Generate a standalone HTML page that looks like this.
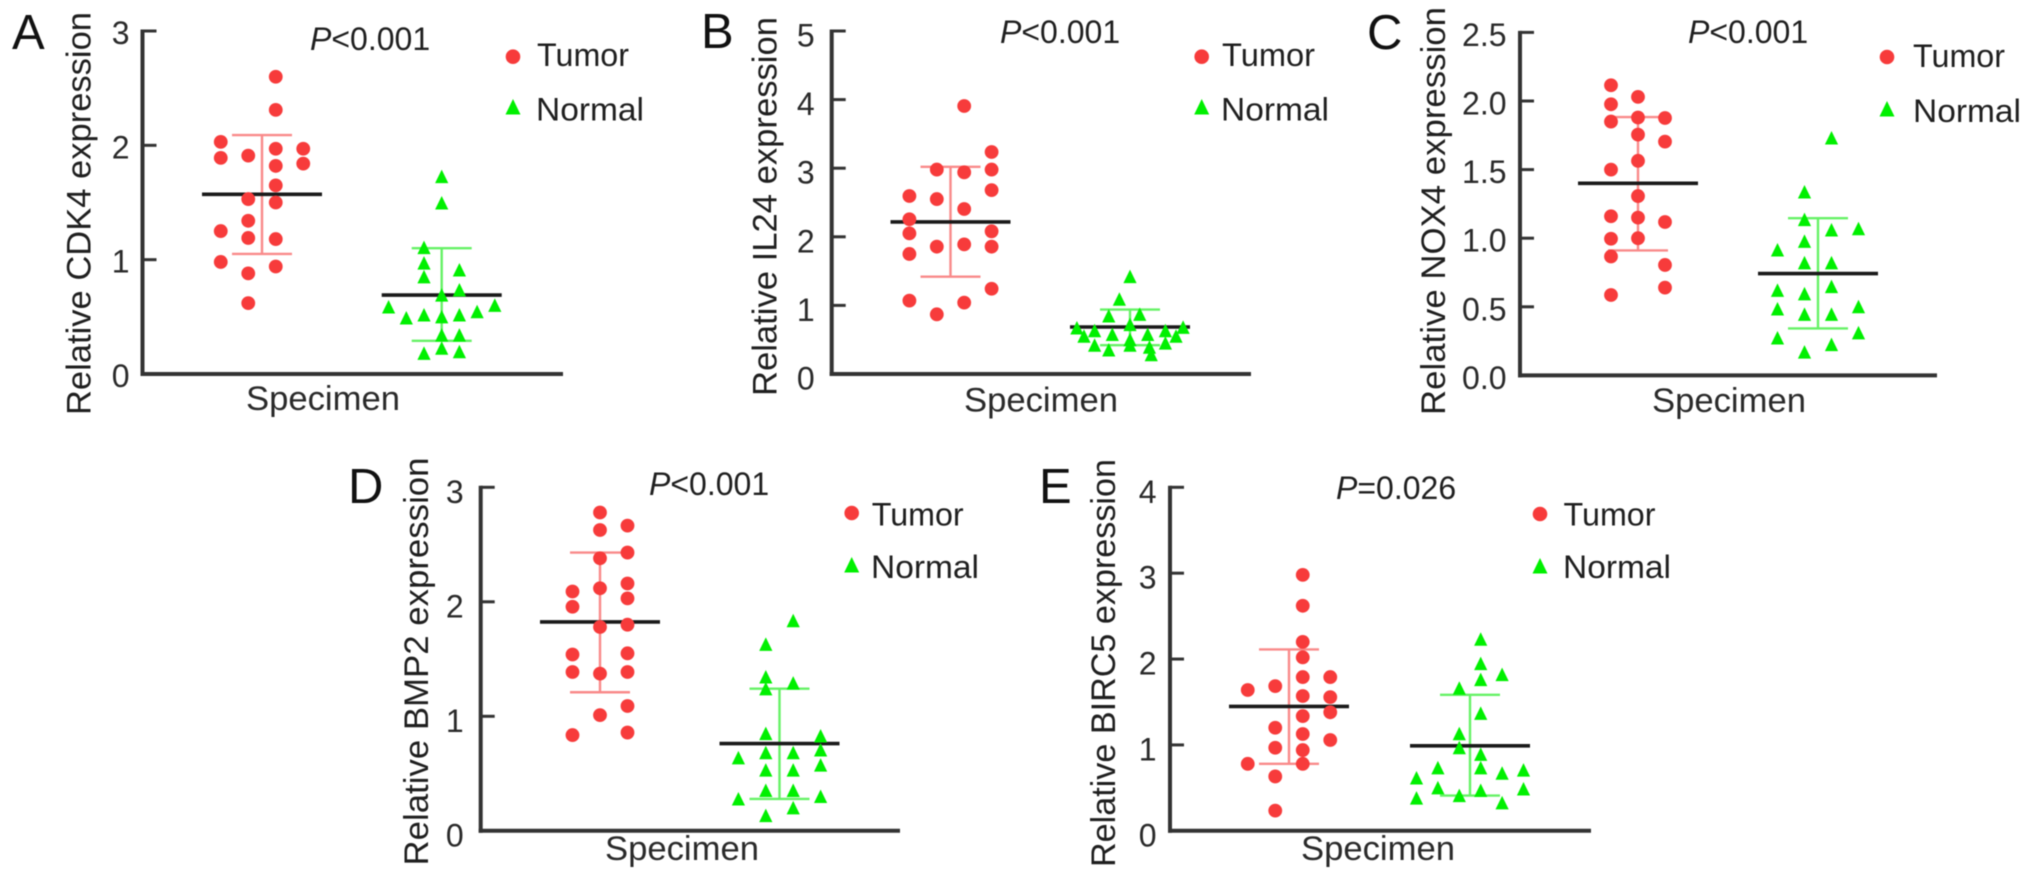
<!DOCTYPE html>
<html lang="en">
<head>
<meta charset="utf-8">
<title>Relative expression of CDK4, IL24, NOX4, BMP2 and BIRC5 in tumor and normal specimens</title>
<style>
  html, body { margin: 0; padding: 0; background: #fff; width: 2032px; height: 871px; overflow: hidden; }
  svg { display: block; filter: blur(0.55px); }
  text { font-family: "Liberation Sans", Arial, sans-serif; fill: #1f1f1f; }
  .letter { font-size: 49px; fill: #111; }
  .ytitle { font-size: 34.5px; text-anchor: middle; }
  .xtitle { font-size: 34px; fill: #2a2a2a; }
  .pval { font-size: 32px; }
  .legend { font-size: 32.5px; }
  .tick { font-size: 32px; text-anchor: end; fill: #2a2a2a; }
</style>
</head>
<body>
<svg id="figure" xmlns="http://www.w3.org/2000/svg" width="2032" height="871" viewBox="0 0 2032 871">
  <rect x="0" y="0" width="2032" height="871" fill="#ffffff"/>

  <g id="panel-a">
    <text class="letter" x="12" y="49">A</text>
    <text class="ytitle" transform="translate(90.5 213.5) rotate(-90)" textLength="403" lengthAdjust="spacingAndGlyphs">Relative CDK4 expression</text>
    <text class="xtitle" x="246" y="410" textLength="154" lengthAdjust="spacingAndGlyphs">Specimen</text>
    <text class="pval" x="310" y="50"><tspan font-style="italic">P</tspan>&lt;0.001</text>
    <g>
      <circle cx="513" cy="56.7" r="7.3" fill="#f73b3b"/>
      <text class="legend" x="537" y="66" textLength="92" lengthAdjust="spacingAndGlyphs">Tumor</text>
      <polygon points="513,99 520.5,114.5 505.5,114.5" fill="#00f000"/>
      <text class="legend" x="536" y="120.7" textLength="108" lengthAdjust="spacingAndGlyphs">Normal</text>
    </g>
  </g>

  <g id="panel-b">
    <text class="letter" x="701" y="48">B</text>
    <text class="ytitle" transform="translate(776.5 206.5) rotate(-90)" textLength="379" lengthAdjust="spacingAndGlyphs">Relative IL24 expression</text>
    <text class="xtitle" x="964" y="411.7" textLength="154" lengthAdjust="spacingAndGlyphs">Specimen</text>
    <text class="pval" x="1000" y="43"><tspan font-style="italic">P</tspan>&lt;0.001</text>
    <g>
      <circle cx="1201.7" cy="56.7" r="7.3" fill="#f73b3b"/>
      <text class="legend" x="1222" y="66" textLength="93" lengthAdjust="spacingAndGlyphs">Tumor</text>
      <polygon points="1201.7,99 1209.2,114.5 1194.2,114.5" fill="#00f000"/>
      <text class="legend" x="1221" y="120.7" textLength="108" lengthAdjust="spacingAndGlyphs">Normal</text>
    </g>
  </g>

  <g id="panel-c">
    <text class="letter" x="1367" y="49">C</text>
    <text class="ytitle" transform="translate(1445 211) rotate(-90)" textLength="408" lengthAdjust="spacingAndGlyphs">Relative NOX4 expression</text>
    <text class="xtitle" x="1652" y="412" textLength="154" lengthAdjust="spacingAndGlyphs">Specimen</text>
    <text class="pval" x="1688" y="43"><tspan font-style="italic">P</tspan>&lt;0.001</text>
    <g>
      <circle cx="1887" cy="57" r="7.3" fill="#f73b3b"/>
      <text class="legend" x="1913" y="67" textLength="92" lengthAdjust="spacingAndGlyphs">Tumor</text>
      <polygon points="1887,101 1894.5,116.5 1879.5,116.5" fill="#00f000"/>
      <text class="legend" x="1913" y="122" textLength="108" lengthAdjust="spacingAndGlyphs">Normal</text>
    </g>
  </g>

  <g id="panel-d">
    <text class="letter" x="348" y="503">D</text>
    <text class="ytitle" transform="translate(428 661.5) rotate(-90)" textLength="408" lengthAdjust="spacingAndGlyphs">Relative BMP2 expression</text>
    <text class="xtitle" x="605" y="860" textLength="154" lengthAdjust="spacingAndGlyphs">Specimen</text>
    <text class="pval" x="649" y="495"><tspan font-style="italic">P</tspan>&lt;0.001</text>
    <g>
      <circle cx="851.7" cy="513" r="7.3" fill="#f73b3b"/>
      <text class="legend" x="871.7" y="525.7" textLength="92" lengthAdjust="spacingAndGlyphs">Tumor</text>
      <polygon points="851.7,557 859.2,572.5 844.2,572.5" fill="#00f000"/>
      <text class="legend" x="871" y="578" textLength="108" lengthAdjust="spacingAndGlyphs">Normal</text>
    </g>
  </g>

  <g id="panel-e">
    <text class="letter" x="1039" y="503">E</text>
    <text class="ytitle" transform="translate(1115 663) rotate(-90)" textLength="408" lengthAdjust="spacingAndGlyphs">Relative BIRC5 expression</text>
    <text class="xtitle" x="1301" y="860" textLength="154" lengthAdjust="spacingAndGlyphs">Specimen</text>
    <text class="pval" x="1336" y="499"><tspan font-style="italic">P</tspan>=0.026</text>
    <g>
      <circle cx="1540" cy="514" r="7.3" fill="#f73b3b"/>
      <text class="legend" x="1563.5" y="525.7" textLength="92" lengthAdjust="spacingAndGlyphs">Tumor</text>
      <polygon points="1540,558 1547.5,573.5 1532.5,573.5" fill="#00f000"/>
      <text class="legend" x="1563" y="578" textLength="108" lengthAdjust="spacingAndGlyphs">Normal</text>
    </g>
  </g>
</svg>

<script>
// ---- Tick labels ----
const cdk4Ticks = ['0', '1', '2', '3'];
const il24Ticks = ['0', '1', '2', '3', '4', '5'];
const nox4Ticks = ['0.0', '0.5', '1.0', '1.5', '2.0', '2.5'];
const bmp2Ticks = ['0', '1', '2', '3'];
const birc5Ticks = ['0', '1', '2', '3', '4'];

// ---- Series values; "Bins" = swarm column of each point, in column widths from the group centre ----
const cdk4TumorValues = [2.03, 1.89, 1.25, 0.98, 1.91, 1.53, 1.34, 1.19, 0.88, 0.62, 2.60, 2.31, 1.97, 1.82, 1.65, 1.50, 1.18, 0.94, 1.97, 1.84];
const cdk4TumorBins = [-1.5, -1.5, -1.5, -1.5, -0.5, -0.5, -0.5, -0.5, -0.5, -0.5, 0.5, 0.5, 0.5, 0.5, 0.5, 0.5, 0.5, 0.5, 1.5, 1.5];
const cdk4NormalValues = [0.586, 0.49, 1.105, 0.97, 0.85, 0.516, 0.18, 1.726, 1.496, 0.69, 0.50, 0.34, 0.225, 0.91, 0.735, 0.516, 0.34, 0.195, 0.545, 0.60];
const cdk4NormalBins = [-3, -2, -1, -1, -1, -1, -1, 0, 0, 0, 0, 0, 0, 1, 1, 1, 1, 1, 2, 3];

const il24TumorValues = [2.595, 2.255, 2.05, 1.75, 1.07, 2.98, 2.55, 1.856, 0.87, 3.907, 2.94, 2.405, 1.89, 1.04, 3.236, 2.98, 2.68, 2.08, 1.856, 1.243];
const il24TumorBins = [-1.5, -1.5, -1.5, -1.5, -1.5, -0.5, -0.5, -0.5, -0.5, 0.5, 0.5, 0.5, 0.5, 0.5, 1.5, 1.5, 1.5, 1.5, 1.5, 1.5];
const il24NormalValues = [1.42, 1.09, 0.87, 0.845, 0.72, 0.67, 0.68, 0.63, 0.63, 0.575, 0.575, 0.55, 0.55, 0.50, 0.42, 0.45, 0.42, 0.35, 0.39, 0.28];
const il24NormalBins = [0, -0.6, 0.55, -1.2, 0, -3, 3, -2, 2, -1, 1, -2.6, 2.6, 0, -2, 2, 0, -1.2, 1.1, 1.2];

const nox4TumorValues = [2.115, 1.976, 1.85, 1.5, 1.16, 0.996, 0.867, 0.586, 2.03, 1.88, 1.755, 1.564, 1.307, 1.15, 1.0, 1.876, 1.704, 1.118, 0.805, 0.64];
const nox4TumorBins = [-1, -1, -1, -1, -1, -1, -1, -1, 0, 0, 0, 0, 0, 0, 0, 1, 1, 1, 1, 1];
const nox4NormalValues = [0.914, 0.62, 0.484, 0.273, 1.337, 1.135, 0.977, 0.82, 0.594, 0.445, 0.17, 1.73, 1.06, 0.82, 0.647, 0.445, 0.224, 1.069, 0.5, 0.31];
const nox4NormalBins = [-1.5, -1.5, -1.5, -1.5, -0.5, -0.5, -0.5, -0.5, -0.5, -0.5, -0.5, 0.5, 0.5, 0.5, 0.5, 0.5, 0.5, 1.5, 1.5, 1.5];

const bmp2TumorValues = [2.09, 1.957, 1.54, 1.387, 0.836, 2.78, 2.627, 2.38, 2.118, 1.78, 1.373, 1.01, 2.665, 2.43, 2.16, 2.03, 1.80, 1.55, 1.387, 1.09, 0.858];
const bmp2TumorBins = [-1, -1, -1, -1, -1, 0, 0, 0, 0, 0, 0, 0, 1, 1, 1, 1, 1, 1, 1, 1, 1];
const bmp2NormalValues = [0.637, 0.278, 1.628, 1.343, 1.24, 0.849, 0.682, 0.53, 0.352, 0.132, 1.835, 1.29, 0.682, 0.53, 0.352, 0.2, 0.828, 0.706, 0.574, 0.3];
const bmp2NormalBins = [-1.5, -1.5, -0.5, -0.5, -0.5, -0.5, -0.5, -0.5, -0.5, -0.5, 0.5, 0.5, 0.5, 0.5, 0.5, 0.5, 1.5, 1.5, 1.5, 1.5];

const birc5TumorValues = [1.64, 0.78, 1.685, 1.2, 0.967, 0.633, 0.235, 2.98, 2.62, 2.2, 2.02, 1.79, 1.57, 1.336, 1.127, 0.94, 0.78, 1.79, 1.557, 1.38, 1.057];
const birc5TumorBins = [-1.5, -1.5, -0.5, -0.5, -0.5, -0.5, -0.5, 0.5, 0.5, 0.5, 0.5, 0.5, 0.5, 0.5, 0.5, 0.5, 0.5, 1.5, 1.5, 1.5, 1.5];
const birc5NormalValues = [0.615, 0.38, 0.733, 0.5, 1.66, 1.13, 0.967, 0.41, 2.23, 1.946, 1.76, 1.367, 0.89, 0.733, 0.47, 1.818, 0.67, 0.325, 0.707, 0.487];
const birc5NormalBins = [-2.5, -2.5, -1.5, -1.5, -0.5, -0.5, -0.5, -0.5, 0.5, 0.5, 0.5, 0.5, 0.5, 0.5, 0.5, 1.5, 1.5, 1.5, 2.5, 2.5];

// ---- Group summaries: [mean, lower whisker, upper whisker] ----
const cdk4TumorSummary = [1.572, 1.05, 2.09];
const cdk4NormalSummary = [0.69, 0.29, 1.10];
const il24TumorSummary = [2.216, 1.418, 3.02];
const il24NormalSummary = [0.685, 0.42, 0.94];
const nox4TumorSummary = [1.40, 0.911, 1.883];
const nox4NormalSummary = [0.742, 0.342, 1.146];
const bmp2TumorSummary = [1.824, 1.21, 2.43];
const bmp2NormalSummary = [0.762, 0.278, 1.241];
const birc5TumorSummary = [1.448, 0.78, 2.112];
const birc5NormalSummary = [0.99, 0.41, 1.583];

const SVG_NS = 'http://www.w3.org/2000/svg';

function make(parent, tag, attrs) {
  const node = document.createElementNS(SVG_NS, tag);
  for (const key in attrs) node.setAttribute(key, attrs[key]);
  parent.appendChild(node);
  return node;
}

function yScale(panel, value) {
  const maxTick = parseFloat(panel.ticks[panel.ticks.length - 1]);
  return panel.y0 + (panel.yTop - panel.y0) * (value / maxTick);
}

function drawAxes(panel, root) {
  const yAxis = make(root, 'line', { x1: panel.axisX, x2: panel.axisX, y1: panel.yTop - 1.5, y2: panel.y0 + 2, stroke: '#333', 'stroke-width': 4 });
  
  
  const xAxis = make(root, 'line', { x1: panel.axisX - 2, x2: panel.axisEnd, y1: panel.y0, y2: panel.y0, stroke: '#333', 'stroke-width': 4 });
  
  
  panel.ticks.forEach(function (label) {
    const y = yScale(panel, parseFloat(label));
    if (parseFloat(label) !== 0) {
      const tickMark = make(root, 'line', { x1: panel.axisX, x2: panel.axisX + 14, y1: y, y2: y, stroke: '#333', 'stroke-width': 3 });
      
      
    }
    const tickLabel = make(root, 'text', { class: 'tick', x: panel.axisX - panel.tickGap, y: y + panel.tickDy + 11.5 });
    tickLabel.textContent = label;
    
    
  });
}

function drawGroup(panel, root, group) {
  const mean = yScale(panel, group.summary[0]);
  const low = yScale(panel, group.summary[1]);
  const high = yScale(panel, group.summary[2]);

  const stem = make(root, 'line', { x1: group.cx, x2: group.cx, y1: high, y2: low, stroke: group.whisker, 'stroke-width': 2.4 });
  
  
  [high, low].forEach(function (y) {
    const cap = make(root, 'line', { x1: group.cx - 30, x2: group.cx + 30, y1: y, y2: y, stroke: group.whisker, 'stroke-width': 2.4 });
    
    
  });
  const meanLine = make(root, 'line', { x1: group.cx - 60, x2: group.cx + 60, y1: mean, y2: mean, stroke: '#1a1a1a', 'stroke-width': 3.6 });
  
  

  group.values.forEach(function (value, i) {
    const x = group.cx + group.bins[i] * group.step;
    const y = yScale(panel, value);
    let mark;
    if (group.shape === 'circle') {
      mark = make(root, 'circle', { cx: x, cy: y, r: 6.9, fill: group.color });
    } else {
      mark = make(root, 'polygon', { points: x + ',' + (y - 7) + ' ' + (x + 6.6) + ',' + (y + 6.5) + ' ' + (x - 6.6) + ',' + (y + 6.5), fill: group.color });
    }
    
    
  });
}

const RED = '#f73b3b', PINK = '#f98a8a', GREEN = '#00f000', LIME = '#66f266';

const panels = [
  { id: 'panel-a', ticks: cdk4Ticks, axisX: 142.5, axisEnd: 563, y0: 374, yTop: 31, tickGap: 13, tickDy: 1.5,
    groups: [
      { name: 'cdk4-tumor', shape: 'circle', color: RED, whisker: PINK, cx: 262, step: 27.5, values: cdk4TumorValues, bins: cdk4TumorBins, summary: cdk4TumorSummary },
      { name: 'cdk4-normal', shape: 'triangle', color: GREEN, whisker: LIME, cx: 441.7, step: 17.7, values: cdk4NormalValues, bins: cdk4NormalBins, summary: cdk4NormalSummary }
    ] },
  { id: 'panel-b', ticks: il24Ticks, axisX: 831.7, axisEnd: 1251, y0: 374, yTop: 31, tickGap: 17, tickDy: 4,
    groups: [
      { name: 'il24-tumor', shape: 'circle', color: RED, whisker: PINK, cx: 950.5, step: 27.4, values: il24TumorValues, bins: il24TumorBins, summary: il24TumorSummary },
      { name: 'il24-normal', shape: 'triangle', color: GREEN, whisker: LIME, cx: 1130, step: 17.7, values: il24NormalValues, bins: il24NormalBins, summary: il24NormalSummary }
    ] },
  { id: 'panel-c', ticks: nox4Ticks, axisX: 1520, axisEnd: 1937, y0: 375.4, yTop: 32.4, tickGap: 13.5, tickDy: 2,
    groups: [
      { name: 'nox4-tumor', shape: 'circle', color: RED, whisker: PINK, cx: 1638, step: 27, values: nox4TumorValues, bins: nox4TumorBins, summary: nox4TumorSummary },
      { name: 'nox4-normal', shape: 'triangle', color: GREEN, whisker: LIME, cx: 1818, step: 27, values: nox4NormalValues, bins: nox4NormalBins, summary: nox4NormalSummary }
    ] },
  { id: 'panel-d', ticks: bmp2Ticks, axisX: 480.7, axisEnd: 900, y0: 830.8, yTop: 487.3, tickGap: 17, tickDy: 4,
    groups: [
      { name: 'bmp2-tumor', shape: 'circle', color: RED, whisker: PINK, cx: 600, step: 27.5, values: bmp2TumorValues, bins: bmp2TumorBins, summary: bmp2TumorSummary },
      { name: 'bmp2-normal', shape: 'triangle', color: GREEN, whisker: LIME, cx: 779.5, step: 27.4, values: bmp2NormalValues, bins: bmp2NormalBins, summary: bmp2NormalSummary }
    ] },
  { id: 'panel-e', ticks: birc5Ticks, axisX: 1170, axisEnd: 1591, y0: 830.8, yTop: 487.3, tickGap: 13.5, tickDy: 4,
    groups: [
      { name: 'birc5-tumor', shape: 'circle', color: RED, whisker: PINK, cx: 1289, step: 27.5, values: birc5TumorValues, bins: birc5TumorBins, summary: birc5TumorSummary },
      { name: 'birc5-normal', shape: 'triangle', color: GREEN, whisker: LIME, cx: 1470, step: 21.4, values: birc5NormalValues, bins: birc5NormalBins, summary: birc5NormalSummary }
    ] }
];

panels.forEach(function (panel) {
  const root = document.getElementById(panel.id);
  drawAxes(panel, root);
  panel.groups.forEach(function (group) {
    drawGroup(panel, root, group);
  });
});
</script>
</body>
</html>
